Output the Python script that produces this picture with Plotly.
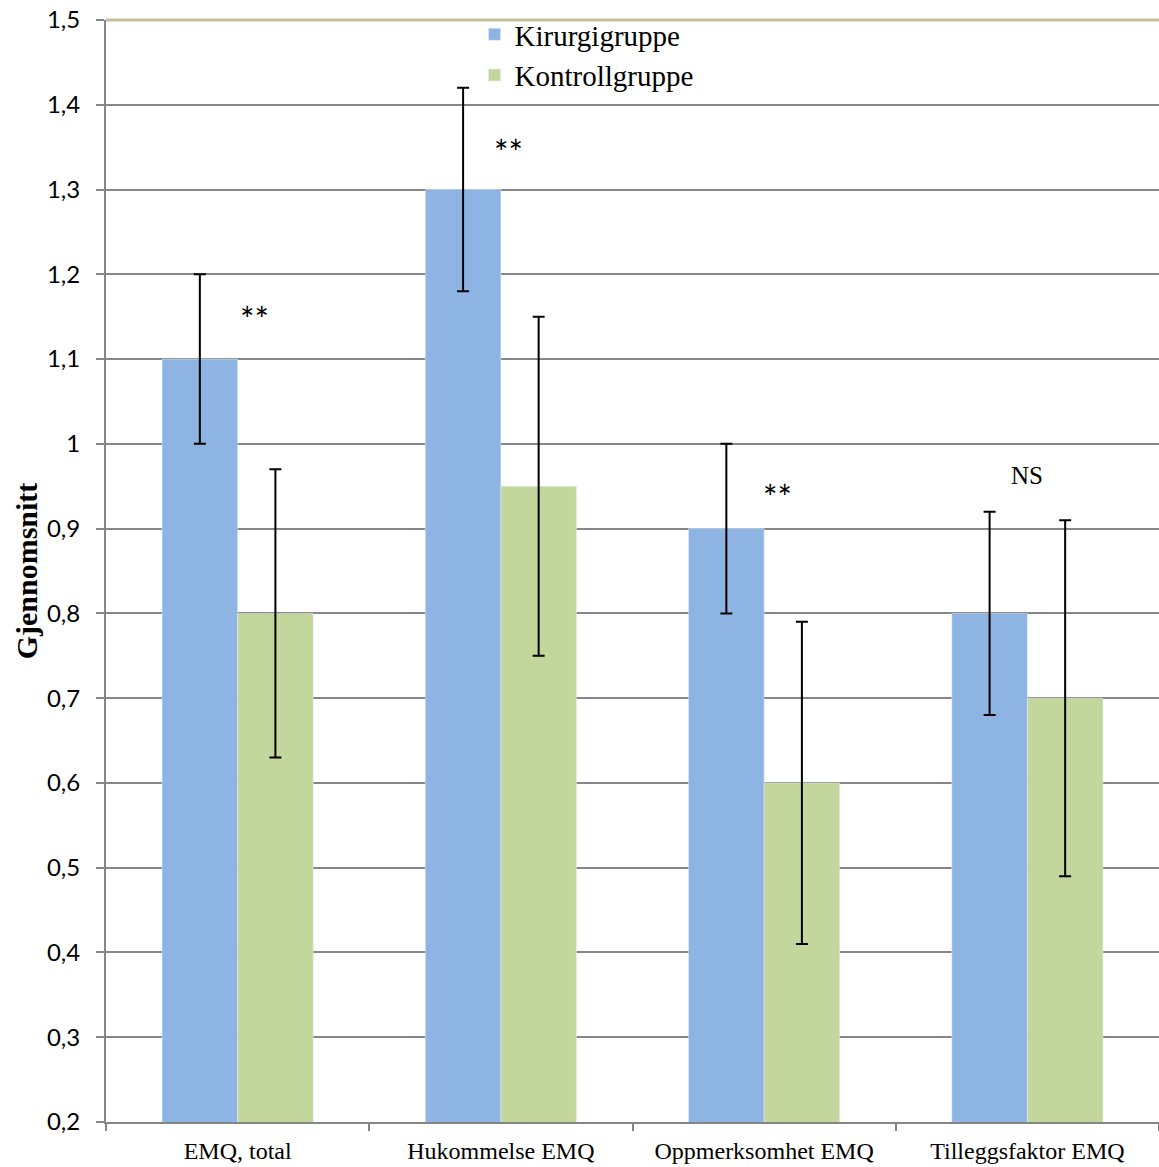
import plotly.graph_objects as go

categories = ["EMQ, total", "Hukommelse EMQ", "Oppmerksomhet EMQ", "Tilleggsfaktor EMQ"]
kirurgi = [1.1, 1.3, 0.9, 0.8]
kirurgi_err = [0.1, 0.12, 0.1, 0.12]
kontroll = [0.8, 0.95, 0.6, 0.7]
kontroll_err = [0.17, 0.2, 0.19, 0.21]
sig_labels = ["**", "**", "**", "NS"]
sig_y = [1.148, 1.345, 0.938, 0.963]
tick_vals = [0.2, 0.3, 0.4, 0.5, 0.6, 0.7, 0.8, 0.9, 1.0, 1.1, 1.2, 1.3, 1.4, 1.5]
tick_text = ["0,2", "0,3", "0,4", "0,5", "0,6", "0,7", "0,8", "0,9", "1", "1,1", "1,2", "1,3", "1,4", "1,5"]

GRID = "#868686"
fig = go.Figure()
fig.add_trace(go.Bar(
    name="Kirurgigruppe", x=categories, y=kirurgi, marker_color="#8EB4E3",
    error_y=dict(type="data", array=kirurgi_err, color="black", thickness=2, width=6),
))
fig.add_trace(go.Bar(
    name="Kontrollgruppe", x=categories, y=kontroll, marker_color="#C3D69B",
    error_y=dict(type="data", array=kontroll_err, color="black", thickness=2, width=6),
))

xshifts = [17, 8, 13, 0]
for i, (lab, yv) in enumerate(zip(sig_labels, sig_y)):
    serif = lab == "NS"
    fig.add_annotation(
        x=categories[i], y=yv, text=lab, showarrow=False, xshift=xshifts[i],
        font=dict(family="Liberation Serif" if serif else "Lato", size=25 if serif else 34, color="black"),
    )

fig.add_shape(type="line", xref="paper", yref="paper", x0=0, x1=1, y0=1, y1=1,
              line=dict(color="#C4BD97", width=3), layer="above")

fig.update_layout(
    width=1159, height=1167,
    margin=dict(l=106, r=0, t=20, b=45),
    paper_bgcolor="white", plot_bgcolor="white",
    barmode="group", bargap=0.426, bargroupgap=0,
    showlegend=True,
    legend=dict(x=0.35, y=1.01, xanchor="left", yanchor="top",
                font=dict(family="Liberation Serif", size=29, color="black"),
                bgcolor="rgba(0,0,0,0)", tracegroupgap=0),
    xaxis=dict(
        type="category", tickson="boundaries", ticks="outside", ticklen=7, tickcolor=GRID,
        tickwidth=2, showline=True, linecolor=GRID, linewidth=2, showgrid=False,
        tickfont=dict(family="Liberation Serif", size=24, color="black"), automargin=False,
        ticklabelstandoff=6,
    ),
    yaxis=dict(
        range=[0.2, 1.5], tickvals=tick_vals, ticktext=tick_text,
        ticks="outside", ticklen=8, tickcolor=GRID, tickwidth=2,
        showline=True, linecolor=GRID, linewidth=2,
        showgrid=True, gridcolor=GRID, gridwidth=2, zeroline=False,
        tickfont=dict(family="Lato", size=24, color="black"),
        ticklabelstandoff=11, automargin=False,
        title=dict(text="<b>Gjennomsnitt</b>", font=dict(family="Liberation Serif", size=30, color="black"),
                   standoff=0),
    ),
)
fig.write_html("out.html", config={"displayModeBar": False},
               post_script="document.body.style.margin='0';document.body.style.overflow='hidden';")
